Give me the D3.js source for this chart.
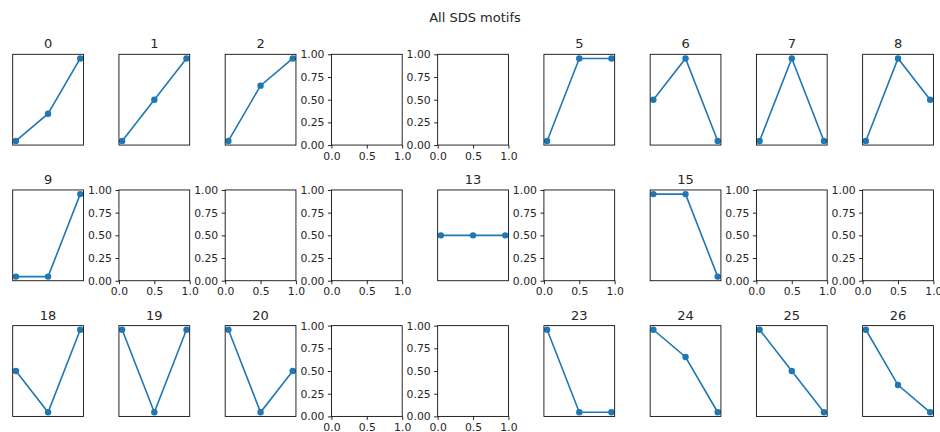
<!DOCTYPE html>
<html>
<head>
<meta charset="utf-8">
<script src="https://cdn.jsdelivr.net/npm/d3@7"></script>
<style>
  body { margin: 0; background: #fff; }
  svg text { font-family: "DejaVu Sans", sans-serif; fill: #262626; }
</style>
</head>
<body>
<div id="chart"></div>
<script>
// one entry per motif id, null where the motif has no plot
const motifValues = [
  [0, 0.33, 1], [0, 0.5, 1], [0, 0.67, 1], null, null, [0, 1, 1], [0.5, 1, 0], [0, 1, 0], [0, 1, 0.5],
  [0, 0, 1], null, null, null, [0.5, 0.5, 0.5], null, [1, 1, 0], null, null,
  [0.5, 0, 1], [1, 0, 1], [1, 0, 0.5], null, null, [1, 0, 0], [1, 0.67, 0], [1, 0.5, 0], [1, 0.33, 0]
];
const stepPositions = [0, 1, 2];
const emptyXTicks = [0, 0.5, 1];
const emptyYTicks = [0, 0.25, 0.5, 0.75, 1];
const figTitle = "All SDS motifs";

const width = 940, height = 432;
const nCols = 9, nRows = 3;
const blue = "#1f77b4";

const svg = d3.select("#chart").append("svg")
  .attr("width", width)
  .attr("height", height);

const col = d3.scaleBand().domain(d3.range(nCols)).range([12.7, 933.4]).paddingInner(0.334);
const row = d3.scaleBand().domain(d3.range(nRows)).range([54.3, 416.4]).paddingInner(0.331);
const w = col.bandwidth(), h = row.bandwidth();

svg.append("text")
  .attr("x", 475)
  .attr("y", 22)
  .attr("text-anchor", "middle")
  .style("font-size", "13px")
  .text(figTitle);

svg.append("defs").selectAll("clipPath")
  .data([0])
  .join("clipPath")
  .attr("id", "axclip")
  .append("rect")
  .attr("width", w)
  .attr("height", h);

motifValues.forEach((vals, i) => {
  const g = svg.append("g")
    .attr("transform", `translate(${col(i % nCols)},${row(Math.floor(i / nCols))})`);

  if (vals === null) {
    // empty axes keep matplotlib's default 0..1 ticks
    const x = d3.scaleLinear().domain([0, 1]).range([0, w]);
    const y = d3.scaleLinear().domain([0, 1]).range([h, 0]);
    const xa = g.append("g")
      .attr("transform", `translate(0,${h})`)
      .call(d3.axisBottom(x).tickValues(emptyXTicks).tickFormat(d3.format(".1f")).tickSize(3.5).tickPadding(3.5));
    const ya = g.append("g")
      .call(d3.axisLeft(y).tickValues(emptyYTicks).tickFormat(d3.format(".2f")).tickSize(3.5).tickPadding(3.5));
    [xa, ya].forEach(a => {
      a.select(".domain").remove();
      a.selectAll("line").attr("stroke", "#000").attr("stroke-width", 0.85);
      a.selectAll("text").style("font-size", "10.8px").attr("fill", "#262626").style("font-family", "DejaVu Sans");
    });
  } else {
    const x = d3.scaleLinear().domain([-0.1, 2.1]).range([0, w]);
    let [lo, hi] = d3.extent(vals);
    if (lo === hi) { lo -= 0.1; hi += 0.1; }
    const pad = (hi - lo) * 0.05;
    const y = d3.scaleLinear().domain([lo - pad, hi + pad]).range([h, 0]);
    const pts = stepPositions.map((s, k) => [s, vals[k]]);

    const plot = g.append("g").attr("clip-path", "url(#axclip)");
    plot.append("path")
      .datum(pts)
      .attr("fill", "none")
      .attr("stroke", blue)
      .attr("stroke-width", 1.6)
      .attr("d", d3.line().x(d => x(d[0])).y(d => y(d[1])));
    plot.selectAll("circle")
      .data(pts)
      .join("circle")
      .attr("cx", d => x(d[0]))
      .attr("cy", d => y(d[1]))
      .attr("r", 3.2)
      .attr("fill", blue);

    g.append("text")
      .attr("x", w / 2)
      .attr("y", -6)
      .attr("text-anchor", "middle")
      .style("font-size", "13px")
      .text(i);
  }

  g.append("rect")
    .attr("width", w)
    .attr("height", h)
    .attr("fill", "none")
    .attr("stroke", "#000")
    .attr("stroke-width", 0.85);
});
</script>
</body>
</html>
